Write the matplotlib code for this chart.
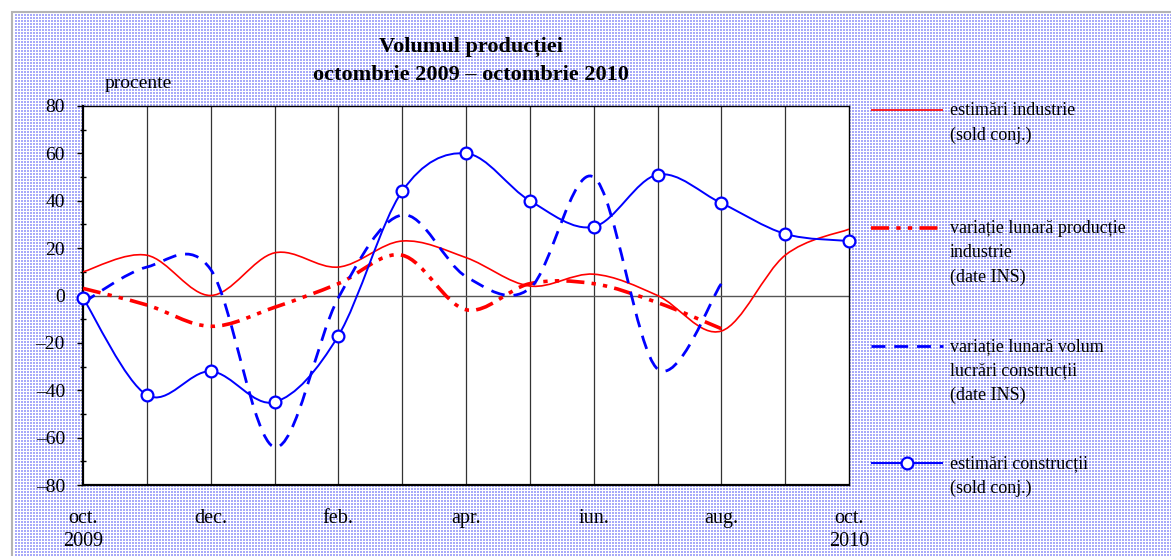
import numpy as np
import matplotlib
matplotlib.use("Agg")
import matplotlib.pyplot as plt
from matplotlib.path import Path
from matplotlib.patches import PathPatch, Rectangle
from matplotlib.lines import Line2D

# ---------------------------------------------------------------- data (monthly, oct 2009 .. oct 2010)
months = ["oct.", "nov.", "dec.", "ian.", "feb.", "mar.", "apr.", "mai", "iun.", "iul.", "aug.", "sep.", "oct."]
est_industrie = [10, 17, 0, 18, 12, 23, 16, 4, 9, 0, -15, 17, 28]
var_prod_industrie = [3, -4, -13, -5, 5, 17, -6, 5, 5, -3, -14]
var_constructii = [-3, 12, 11, -64, -1, 34, 8, 3, 50, -31, 5]
est_constructii = [-1, -42, -32, -45, -17, 44, 60, 40, 29, 51, 39, 26, 23]

labels = ["estimări industrie\n(sold conj.)",
          "variație lunară producție\nindustrie\n(date INS)",
          "variație lunară volum\nlucrări construcții\n(date INS)",
          "estimări construcții\n(sold conj.)"]

plt.rcParams['font.family'] = ['Liberation Serif', 'DejaVu Serif']

RED = '#ff0000'
BLUE = '#0000ff'


def smooth_path(y):
    # excel-like smoothed line: cubic bezier through the monthly points
    x = np.arange(len(y), dtype=float)
    y = np.asarray(y, dtype=float)
    n = len(y)
    tx, ty = np.zeros(n), np.zeros(n)
    for i in range(n):
        a, b = max(i - 1, 0), min(i + 1, n - 1)
        tx[i] = (x[b] - x[a]) / 2
        ty[i] = (y[b] - y[a]) / 2
    verts = [(x[0], y[0])]
    codes = [Path.MOVETO]
    for i in range(n - 1):
        verts += [(x[i] + tx[i] / 3, y[i] + ty[i] / 3),
                  (x[i + 1] - tx[i + 1] / 3, y[i + 1] - ty[i + 1] / 3),
                  (x[i + 1], y[i + 1])]
        codes += [Path.CURVE4] * 3
    return Path(verts, codes)


fig = plt.figure(figsize=(11.71, 5.56), dpi=100)
fig.patch.set_facecolor('white')

# dotted background: small blue squares on a white grid
H, W = 543, 1157
yy, xx = np.mgrid[0:H, 0:W]
bg = np.ones((H, W, 3))
blue = (xx % 3 != 0) & (yy % 3 != 0)
bg[blue] = [0.66, 0.67, 0.98]
fig.figimage(bg, xo=14, yo=0, origin='upper', zorder=-2)
fig.patches.append(Rectangle((12 / 1171, -0.01), 1.1, 1 - 12 / 556 + 0.01, transform=fig.transFigure,
                             fill=False, edgecolor='#b4b4b4', lw=1.5, zorder=-1))

ax = fig.add_axes([83 / 1171, 1 - 485 / 556, (849 - 83) / 1171, (485 - 106) / 556])
ax.set_facecolor('white')
ax.set_xlim(0, 12)
ax.set_ylim(-80, 80)

for m in range(1, 12):
    ax.axvline(m, color='#333333', lw=0.9, zorder=1)
ax.axhline(0, color='#555555', lw=1.0, zorder=1)

styles = [
    dict(edgecolor=RED, lw=1.2, linestyle='-'),
    dict(edgecolor=RED, lw=2.6, linestyle=(0, (5, 2, 1.2, 2, 1.2, 2))),
    dict(edgecolor=BLUE, lw=2.0, linestyle=(0, (5, 3.2))),
    dict(edgecolor=BLUE, lw=1.4, linestyle='-'),
]
series = [est_industrie, var_prod_industrie, var_constructii, est_constructii]
for s, st in zip(series, styles):
    ax.add_patch(PathPatch(smooth_path(s), fill=False, capstyle='butt', zorder=3, **st))
ax.plot(range(len(est_constructii)), est_constructii, linestyle='none', marker='o', ms=8.5,
        mfc='white', mec=BLUE, mew=1.6, zorder=4, clip_on=False)

ax.set_yticks(np.arange(-80, 81, 20))
ax.set_yticklabels([str(v).replace('-', '\u2013') for v in range(-80, 81, 20)])
ax.set_yticks(np.arange(-70, 80, 20), minor=True)
ax.tick_params(axis='y', which='major', direction='out', length=4.5, width=1, pad=8.5, labelsize=14)
ax.tick_params(axis='y', which='minor', direction='inout', length=5, width=1)
ax.set_xticks(range(0, 13, 2))
ax.set_xticklabels([months[i] for i in range(0, 13, 2)])
ax.tick_params(axis='x', length=0, pad=17, labelsize=14.5)
for sp in ax.spines.values():
    sp.set_linewidth(1.0)
    sp.set_color('black')
ax.spines['bottom'].set_linewidth(1.6)
ax.spines['left'].set_linewidth(1.6)

ax.text(0, -0.15, "2009", transform=ax.get_xaxis_transform(), ha='center', va='center', fontsize=14.5)
ax.text(12, -0.15, "2010", transform=ax.get_xaxis_transform(), ha='center', va='center', fontsize=14.5)

fig.text(471 / 1171, 1 - 47 / 556, "Volumul producției", ha='center', va='center',
         fontsize=16, fontweight='bold')
fig.text(471 / 1171, 1 - 75 / 556, "octombrie 2009 \u2013 octombrie 2010", ha='center', va='center',
         fontsize=16, fontweight='bold')
fig.text(105 / 1171, 1 - 84 / 556, "procente", ha='left', va='center', fontsize=14)

# legend drawn beside the plot
leg_y = [110, 228, 346, 463]
x0, x1, xt = 871 / 1171, 943 / 1171, 950 / 1171
for i, (lab, st, ly) in enumerate(zip(labels, styles, leg_y)):
    yf = 1 - ly / 556
    ln = Line2D([x0, x1], [yf, yf], transform=fig.transFigure, color=st['edgecolor'], lw=st['lw'],
                linestyle=st['linestyle'], solid_capstyle='butt', dash_capstyle='butt')
    fig.add_artist(ln)
    if i == 3:
        fig.add_artist(Line2D([(x0 + x1) / 2], [yf], transform=fig.transFigure, marker='o', ms=8.5,
                              mfc='white', mec=BLUE, mew=1.6, linestyle='none'))
    fig.text(xt, yf + 8 / 556, lab, ha='left', va='top', fontsize=13, linespacing=1.55)

fig.savefig("out.png", dpi=100)
